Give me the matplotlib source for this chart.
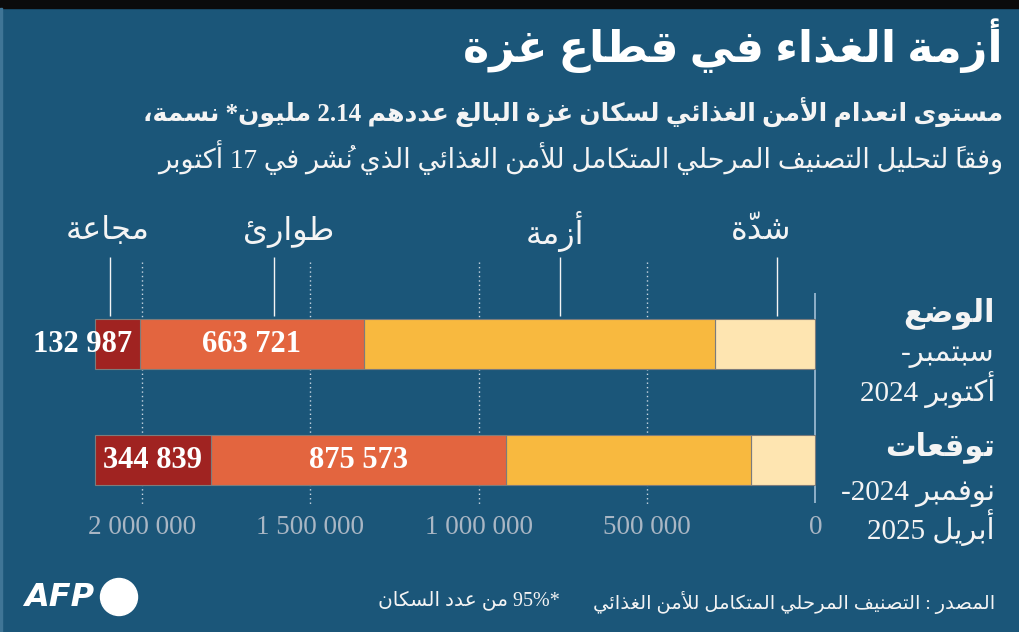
import re
import matplotlib
matplotlib.use('Agg')
import matplotlib.pyplot as plt
from matplotlib.patches import Ellipse, Rectangle

# ── Data ────────────────────────────────────────────────────
STAGES = ['شدّة', 'أزمة', 'طوارئ', 'مجاعة']          # IPC phases 2..5
ROW_TITLES = ['الوضع', 'توقعات']
ROW_PERIODS = [['سبتمبر-', 'أكتوبر 2024'], ['نوفمبر 2024-', 'أبريل 2025']]
STRESSED = [298000, 192000]
CRISIS = [1044000, 728000]
EMERGENCY = [663721, 875573]
FAMINE = [132987, 344839]
TICKS = [0, 500000, 1000000, 1500000, 2000000]

TITLE = 'أزمة الغذاء في قطاع غزة'
SUB1 = 'مستوى انعدام الأمن الغذائي لسكان غزة البالغ عددهم 2.14 مليون* نسمة،'
SUB2 = 'وفقاً لتحليل التصنيف المرحلي المتكامل للأمن الغذائي الذي نُشر في 17 أكتوبر'
SOURCE = 'المصدر : التصنيف المرحلي المتكامل للأمن الغذائي'
NOTE = '*95% من عدد السكان'

# ── Colours ─────────────────────────────────────────────────
BG = '#1b5679'
WHITE = '#f4f4f4'
TICKGRAY = '#a9b6c4'
ZEROLINE = '#8fb0c9'
COLORS = ['#fee5b1', '#f8b93f', '#e3653f', '#a02321']

FONT = ['Liberation Serif', 'DejaVu Sans']

# ── Minimal Arabic shaping (presentation forms + visual order) ──
_SEQ = ([(0x621, 1), (0x622, 2), (0x623, 2), (0x624, 2), (0x625, 2), (0x626, 4),
         (0x627, 2), (0x628, 4), (0x629, 2)]
        + [(c, 4) for c in range(0x62A, 0x62F)]
        + [(c, 2) for c in range(0x62F, 0x633)]
        + [(c, 4) for c in range(0x633, 0x63B)]
        + [(c, 4) for c in range(0x641, 0x648)]
        + [(0x648, 2), (0x649, 2), (0x64A, 4)])
FORMS = {}
_code = 0xFE80
for cp, n in _SEQ:
    FORMS[chr(cp)] = [chr(_code + k) for k in range(n)]
    _code += n
LAM_ALEF = {'\u0622': 0xFEF5, '\u0623': 0xFEF7, '\u0625': 0xFEF9, '\u0627': 0xFEFB}
for cp in LAM_ALEF.values():
    FORMS[chr(cp)] = [chr(cp), chr(cp + 1)]


def ar(text):
    clusters = []
    for ch in text:
        if '\u064B' <= ch <= '\u0652' and clusters:
            clusters[-1][1] += ch
        else:
            clusters.append([ch, ''])
    merged = []
    for c in clusters:
        if merged and c[0] in LAM_ALEF and merged[-1][0] == '\u0644':
            merged[-1][0] = chr(LAM_ALEF[c[0]])
            merged[-1][1] += c[1]
        else:
            merged.append(c)
    out = []
    for i, (b, m) in enumerate(merged):
        f = FORMS.get(b)
        if f is None:
            out.append(m + b)
            continue
        prev = merged[i - 1][0] if i > 0 else ''
        nxt = merged[i + 1][0] if i + 1 < len(merged) else ''
        jp = len(FORMS.get(prev, [])) == 4 and len(f) > 1
        jn = len(f) == 4 and len(FORMS.get(nxt, [])) > 1
        idx = 3 if (jp and jn) else 1 if jp else 2 if jn else 0
        # marks go first so they sit over the start of the glyph when drawn LTR
        out.append(m + f[idx])
    vis = ''.join(reversed(out))
    return re.sub(r'[0-9.%]+', lambda mo: mo.group(0)[::-1], vis)


def spaced(v):
    return f'{v:,}'.replace(',', ' ')


# ── Figure / scales (pixel layout of the original) ──────────
W, H = 1020, 632
X0_PX, X2M_PX = 815.5, 142.0          # where 0 and 2 000 000 fall
PX_PER = (X0_PX - X2M_PX) / 2e6
ROW0_PX, ROW_STEP = 344.0, 116.0

fig = plt.figure(figsize=(W / 100, H / 100), dpi=100)
fig.patch.set_facecolor(BG)
ax = fig.add_axes([0, 0, 1, 1])
ax.set_facecolor(BG)
ax.axis('off')
ax.set_xlim(X0_PX / PX_PER, -(W - X0_PX) / PX_PER)
ax.set_ylim((H - ROW0_PX) / ROW_STEP, -ROW0_PX / ROW_STEP)


def ftext(x, y, s, **kw):
    fig.text(x / W, 1 - y / H, s, **kw)


def py(y):
    return (y - ROW0_PX) / ROW_STEP


# top black band + light left edge
fig.patches.append(Rectangle((0, 1 - 8 / H), 1, 8 / H, transform=fig.transFigure,
                             color='#0b0b0b', zorder=0))
fig.patches.append(Rectangle((0, 0), 2.5 / W, 1 - 8 / H, transform=fig.transFigure,
                             color='#3f7596', zorder=0))

# grid lines (dotted) and zero line
for t in TICKS[1:]:
    ax.vlines(t, py(262), py(505), colors='#c9d6e2', linestyles=(0, (1, 2.2)),
              linewidth=1.0, zorder=1)
ax.vlines(0, py(293), py(503), colors=ZEROLINE, linewidth=1.4, zorder=1)

# stacked bars
rows = list(range(len(STRESSED)))
series = [STRESSED, CRISIS, EMERGENCY, FAMINE]
left = [0] * len(rows)
for vals, col in zip(series, COLORS):
    ax.barh(rows, vals, left=left, height=50 / ROW_STEP, color=col,
            edgecolor='#7c7c7c', linewidth=0.8, zorder=3)
    left = [l + v for l, v in zip(left, vals)]

# value labels for emergency and famine
min_w = 70 / PX_PER
for r in rows:
    start = STRESSED[r] + CRISIS[r]
    for vals in (EMERGENCY, FAMINE):
        v = vals[r]
        if v >= min_w:
            ax.text(start + v / 2, r, spaced(v), ha='center', va='center',
                    color='white', fontsize=22, fontweight='bold',
                    family=FONT, zorder=5)
        else:
            # too narrow: hang the label off the inner edge
            ax.text(start + 8 / PX_PER, r, spaced(v), ha='right', va='center',
                    color='white', fontsize=22, fontweight='bold',
                    family=FONT, zorder=5)
        start += v

# tick labels
for t in TICKS:
    ax.text(t, py(528), spaced(t), ha='center', va='center', color=TICKGRAY,
            fontsize=19.5, family=FONT)

# stage labels with leader lines
label_px = [(761, 777), (555, 560), (289, 274), (108, 110)]
for name, (tx, lx) in zip(STAGES, label_px):
    ftext(tx, 232, ar(name), ha='center', va='center', color=WHITE,
          fontsize=23, family=FONT)
    ax.vlines((X0_PX - lx) / PX_PER, py(257), py(316), colors=WHITE,
              linewidth=1.0, zorder=2)

# row labels
row_label_y = [(313, 355, 390), (447, 494, 528)]
for (ttl, per), (y1, y2, y3) in zip(zip(ROW_TITLES, ROW_PERIODS), row_label_y):
    ftext(995, y1, ar(ttl), ha='right', va='center', color=WHITE,
          fontsize=22, fontweight='bold', family=FONT)
    ftext(995, y2, ar(per[0]), ha='right', va='center',
          color=WHITE, fontsize=21, family=FONT)
    ftext(995, y3, ar(per[1]), ha='right', va='center',
          color=WHITE, fontsize=21, family=FONT)

# titles
ftext(1003, 46, ar(TITLE), ha='right', va='center', color='white',
      fontsize=32, fontweight='bold', family=FONT)
ftext(1003, 112, ar(SUB1), ha='right', va='center', color=WHITE,
      fontsize=18, fontweight='bold', family=FONT)
ftext(1003, 158, ar(SUB2), ha='right', va='center', color=WHITE,
      fontsize=19.5, family=FONT)

# footer
ftext(995, 603, ar(SOURCE), ha='right', va='center', color=WHITE,
      fontsize=14, family=FONT)
ftext(560, 600, ar(NOTE), ha='right', va='center', color=WHITE,
      fontsize=14.5, family=FONT)
ftext(24, 598, 'AFP', ha='left', va='center', color='white', fontsize=23,
      fontweight='bold', fontstyle='italic', family='DejaVu Sans')
fig.patches.append(Ellipse((119 / W, 1 - 597 / H), 37 / W, 37 / H,
                           transform=fig.transFigure, color='white', zorder=3))

fig.savefig('out.png', dpi=100, facecolor=BG)
